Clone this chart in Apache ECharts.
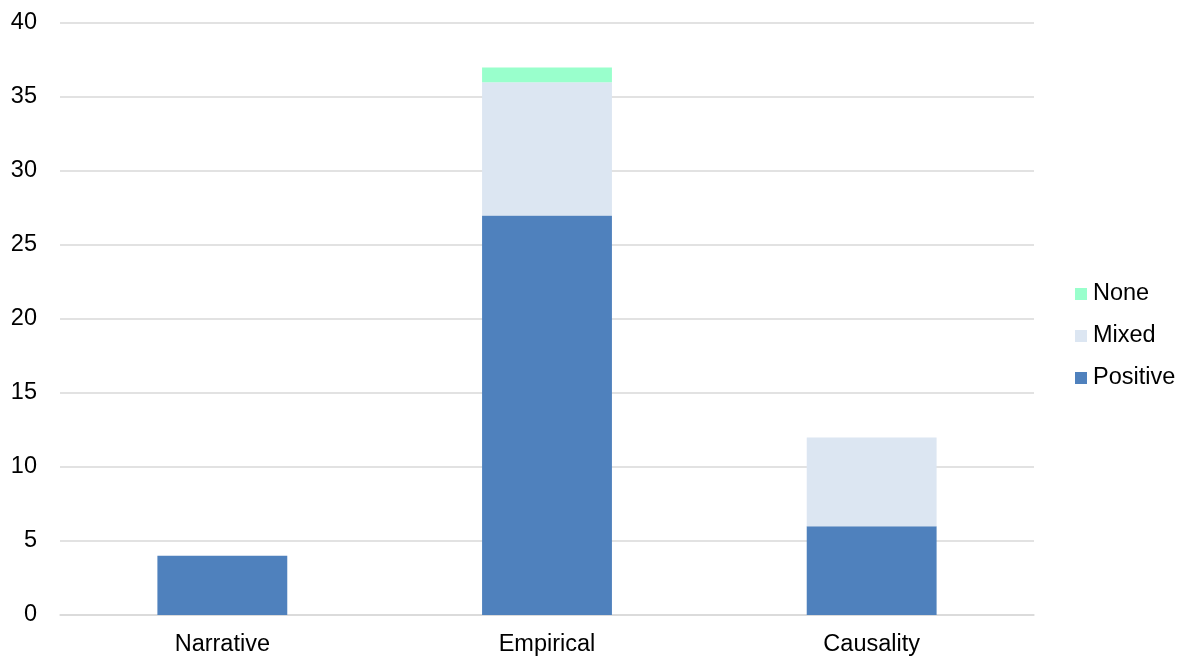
<!DOCTYPE html>
<html><head><meta charset="utf-8">
<script src="https://cdn.jsdelivr.net/npm/echarts@6/dist/echarts.min.js"></script>
<style>html,body{margin:0;padding:0;background:#fff}#c{width:1186px;height:660px}</style>
</head><body><div id="c"></div>
<script>
const categories = ['Narrative', 'Empirical', 'Causality'];
const positive = [4, 27, 6];
const mixed = [0, 9, 6];
const none = [0, 1, 0];
const yTicks = [0, 5, 10, 15, 20, 25, 30, 35, 40];

const chart = echarts.init(document.getElementById('c'), null, {renderer: 'canvas'});
const font = 'Liberation Sans, Arial, sans-serif';
chart.setOption({
  animation: false,
  textStyle: {fontFamily: font},
  grid: {left: 60, right: 152, top: 23, bottom: 45},
  legend: {
    orient: 'vertical', left: 1070, top: 277,
    data: ['None', 'Mixed', 'Positive'],
    itemWidth: 12, itemHeight: 12, itemGap: 18,
    icon: 'rect',
    textStyle: {fontSize: 23.5, color: '#000', fontFamily: font, padding: [0, 0, 0, 1]}
  },
  xAxis: {
    type: 'category', data: categories,
    axisLine: {show: true, lineStyle: {color: '#d9d9d9', width: 1.5}},
    axisTick: {show: false},
    axisLabel: {fontSize: 23.5, color: '#000', margin: 18, fontFamily: font}
  },
  yAxis: {
    type: 'value', min: yTicks[0], max: yTicks[yTicks.length - 1], interval: 5,
    axisLine: {show: false}, axisTick: {show: false},
    axisLabel: {fontSize: 23.5, color: '#000', margin: 23, fontFamily: font, padding: [4, 0, 0, 0]},
    splitLine: {lineStyle: {color: '#d9d9d9', width: 1.5}}
  },
  series: [
    {name: 'Positive', type: 'bar', stack: 's', data: positive, barWidth: '40%', itemStyle: {color: '#4F81BD'}},
    {name: 'Mixed', type: 'bar', stack: 's', data: mixed, barWidth: '40%', itemStyle: {color: '#DCE6F2'}},
    {name: 'None', type: 'bar', stack: 's', data: none, barWidth: '40%', itemStyle: {color: '#99FFCC'}}
  ]
});
</script></body></html>
